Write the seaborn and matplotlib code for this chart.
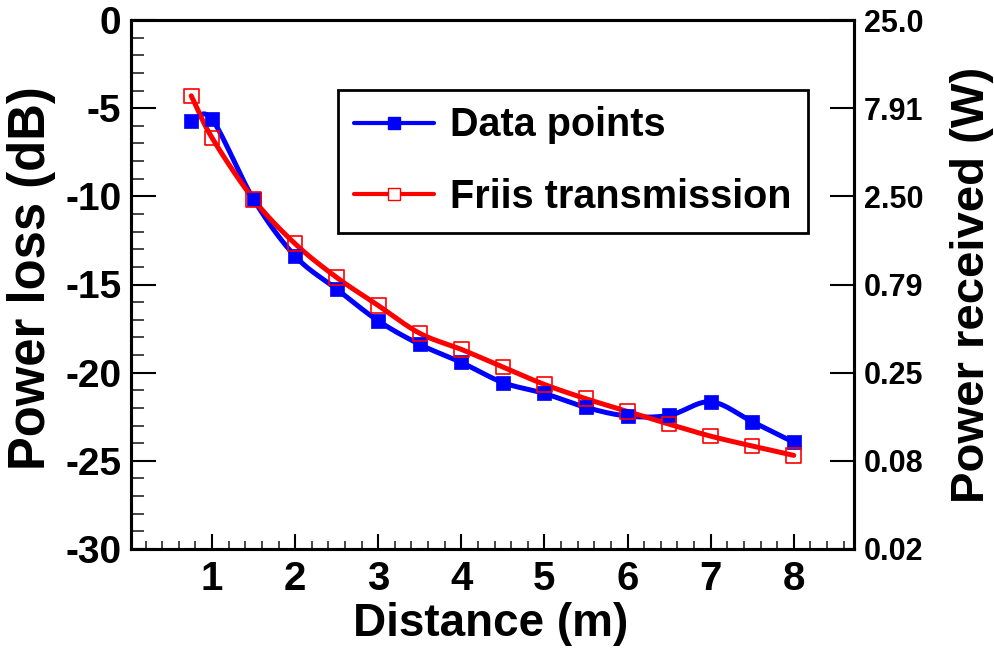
import numpy as np
import pandas as pd
import matplotlib
matplotlib.use("Agg")
import matplotlib.pyplot as plt
from matplotlib.ticker import MultipleLocator, FixedLocator
from matplotlib.lines import Line2D
import seaborn as sns

# ---- data ----
distance = [0.75, 1.0, 1.5, 2.0, 2.5, 3.0, 3.5, 4.0, 4.5, 5.0, 5.5, 6.0, 6.5, 7.0, 7.5, 8.0]
data_points = [-5.72, -5.64, -10.17, -13.39, -15.26, -17.06, -18.40, -19.42, -20.56,
               -21.18, -21.97, -22.46, -22.42, -21.65, -22.78, -23.95]
friis = [-4.30, -6.68, -10.17, -12.69, -14.60, -16.19, -17.77, -18.68, -19.68,
         -20.67, -21.48, -22.20, -22.92, -23.60, -24.16, -24.69]
labels = ["Data points", "Friis transmission"]
left_ticks = [0, -5, -10, -15, -20, -25, -30]
right_ticklabels = ["25.0", "7.91", "2.50", "0.79", "0.25", "0.08", "0.02"]
x_ticks = [1, 2, 3, 4, 5, 6, 7, 8]

BLUE = "#0000ff"
RED = "#ff0000"


def smooth(x, y, n=24):
    """Catmull-Rom curve through the given points (for drawing the smooth line)."""
    x = np.asarray(x, float)
    y = np.asarray(y, float)
    px = np.concatenate([[2 * x[0] - x[1]], x, [2 * x[-1] - x[-2]]])
    py = np.concatenate([[2 * y[0] - y[1]], y, [2 * y[-1] - y[-2]]])
    xs, ys = [], []
    t = np.linspace(0, 1, n, endpoint=False)
    for i in range(1, len(px) - 2):
        p0, p1, p2, p3 = (np.array([px[j], py[j]]) for j in (i - 1, i, i + 1, i + 2))
        for tt in t:
            pt = 0.5 * ((2 * p1) + (-p0 + p2) * tt + (2 * p0 - 5 * p1 + 4 * p2 - p3) * tt ** 2
                        + (-p0 + 3 * p1 - 3 * p2 + p3) * tt ** 3)
            xs.append(pt[0])
            ys.append(pt[1])
    xs.append(x[-1])
    ys.append(y[-1])
    return np.array(xs), np.array(ys)


sns.set_theme(style="white")
plt.rcParams["font.family"] = ["Liberation Sans", "DejaVu Sans"]
plt.rcParams["font.weight"] = "bold"

fig = plt.figure(figsize=(9.95, 6.49), dpi=100)
L, R, T, B = 131, 854, 20, 549
W, H = 995, 649
ax = fig.add_axes([L / W, 1 - B / H, (R - L) / W, (B - T) / H])

df_pts = pd.DataFrame({"d": distance * 2, "v": data_points + friis,
                       "s": [labels[0]] * len(distance) + [labels[1]] * len(distance)})

for vals, col, lab in [(data_points, BLUE, labels[0]), (friis, RED, labels[1])]:
    sx, sy = smooth(distance, vals)
    sns.lineplot(x=sx, y=sy, ax=ax, color=col, linewidth=3.6, sort=False,
                 estimator=None, legend=False)

sns.scatterplot(data=df_pts[df_pts.s == labels[0]], x="d", y="v", ax=ax, marker="s",
                s=110, color=BLUE, edgecolor=BLUE, linewidth=0.5, legend=False, zorder=5)
sns.scatterplot(data=df_pts[df_pts.s == labels[1]], x="d", y="v", ax=ax, marker="s",
                s=110, facecolor="none", edgecolor=RED, linewidth=1.2, legend=False, zorder=5)
ax.set_xlabel("")
ax.set_ylabel("")

ax.set_xlim(0.025, 8.725)
ax.set_ylim(-30, 0)

for sp in ax.spines.values():
    sp.set_visible(True)
    sp.set_color("black")
    sp.set_linewidth(2.2)

ax.xaxis.set_major_locator(FixedLocator(x_ticks))
ax.xaxis.set_minor_locator(MultipleLocator(0.2))
ax.yaxis.set_major_locator(FixedLocator(left_ticks))
ax.yaxis.set_minor_locator(MultipleLocator(1))
ax.set_xticklabels([str(v) for v in x_ticks])
ax.set_yticklabels([str(v) for v in left_ticks])

ax.tick_params(axis="x", which="major", direction="in", length=11, width=1.5,
               labelsize=29, pad=8, bottom=True, top=False, colors="black")
ax.tick_params(axis="x", which="minor", direction="in", length=5.5, width=1.2,
               bottom=True, top=False)
ax.tick_params(axis="y", which="major", direction="in", length=18, width=1.5,
               labelsize=28, pad=7, left=True, right=False, colors="black")
ax.tick_params(axis="y", which="minor", direction="in", length=9, width=1.2,
               left=True, right=False)
for t in ax.get_xticklabels() + ax.get_yticklabels():
    t.set_fontweight("bold")

fig.text(491 / W, 1 - 624 / H, "Distance (m)", fontsize=33, fontweight="bold",
         color="black", ha="center", va="center")
fig.text(32 / W, 1 - 278.5 / H, "Power loss (dB)", fontsize=36.5, fontweight="bold",
         color="black", ha="center", va="center", rotation=90)

ax2 = ax.twinx()
ax2.set_ylim(-30, 0)
ax2.yaxis.set_major_locator(FixedLocator(left_ticks))
ax2.set_yticklabels(right_ticklabels)
ax2.tick_params(axis="y", which="major", direction="in", length=17, width=1.5,
                labelsize=22, pad=7, right=True, left=False, colors="black")
ax2.tick_params(axis="y", which="minor", right=False, left=False)
for t in ax2.get_yticklabels():
    t.set_fontweight("bold")
for sp in ax2.spines.values():
    sp.set_color("black")
    sp.set_linewidth(2.2)
fig.text(972 / W, 1 - 285 / H, "Power received (W)", fontsize=34, fontweight="bold",
         color="black", ha="center", va="center", rotation=90)
ax2.grid(False)
ax.grid(False)

handles = [
    Line2D([], [], color=BLUE, linewidth=3, marker="s", markersize=8,
           markerfacecolor=BLUE, markeredgecolor=BLUE),
    Line2D([], [], color=RED, linewidth=3, marker="s", markersize=8,
           markerfacecolor="white", markeredgecolor=RED, markeredgewidth=1),
]
leg = ax.legend(handles, labels, loc="upper left", bbox_to_anchor=(0.286, 0.868),
                borderaxespad=0, prop={"weight": "bold", "size": 28.5},
                frameon=True, fancybox=False, shadow=False, numpoints=1,
                handlelength=2.0, handletextpad=0.42, labelspacing=0.85,
                borderpad=0.42, framealpha=1)
leg.get_frame().set_edgecolor("black")
leg.get_frame().set_linewidth(2.0)
leg.set_zorder(10)
for txt in leg.get_texts():
    txt.set_color("black")

fig.savefig("out.png", dpi=100, facecolor="white")
